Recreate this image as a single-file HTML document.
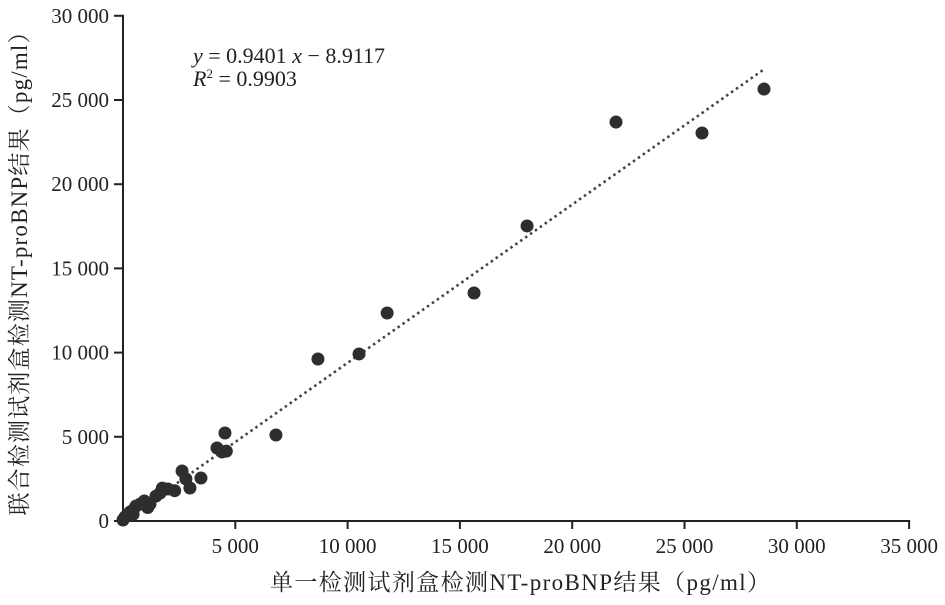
<!DOCTYPE html>
<html><head><meta charset="utf-8"><style>
body{margin:0;background:#fff;width:945px;height:600px;overflow:hidden}
svg text{font-family:"Liberation Serif","Noto Serif CJK SC",serif;fill:#222}
</style></head><body>
<svg id="chart" width="945" height="600" viewBox="0 0 945 600" xmlns="http://www.w3.org/2000/svg"></svg>
<script>
const xTicks=[5000,10000,15000,20000,25000,30000,35000];
const xTickLabels=["5 000","10 000","15 000","20 000","25 000","30 000","35 000"];
const yTicks=[0,5000,10000,15000,20000,25000,30000];
const yTickLabels=["0","5 000","10 000","15 000","20 000","25 000","30 000"];
const xValues=[4540,6810,4185,4410,4600,3470,2630,2800,2980,2000,1650,1470,950,580,310,90,180,450,760,1200,450,0,8680,10510,11760,15630,17990,21950,25780,28540,1750,1100,2300];
const yValues=[5225,5107,4335,4100,4150,2550,2970,2500,1960,1900,1660,1480,1190,890,530,240,350,650,1000,1000,400,60,9620,9920,12350,13540,17520,23690,23040,25650,1950,800,1800];
const slope=0.9401, intercept=-8.9117, fitStart=0, fitEnd=28500;

const X0=123,Y0=521,PX=112.3/5000,PY=84.2/5000;
const sx=v=>X0+v*PX, sy=v=>Y0-v*PY;
const svg=document.getElementById('chart');
const NS="http://www.w3.org/2000/svg";
function mk(t,a,p){const e=document.createElementNS(NS,t);for(const k in a)e.setAttribute(k,a[k]);(p||svg).appendChild(e);return e;}

const xAxis=mk('line',{x1:X0,y1:Y0,x2:sx(35000)+1,y2:Y0,stroke:'#222','stroke-width':2});


const yAxis=mk('line',{x1:X0,y1:Y0+1,x2:X0,y2:sy(30000)-1,stroke:'#222','stroke-width':2});



xTicks.forEach((v,i)=>{
  const t=mk('line',{x1:sx(v),y1:Y0,x2:sx(v),y2:Y0+8,stroke:'#222','stroke-width':2});
  
  
  const l=mk('text',{x:sx(v),y:Y0+32,'text-anchor':'middle','font-size':21});
  l.textContent=xTickLabels[i];
  
  
});
yTicks.forEach((v,i)=>{
  const t=mk('line',{x1:X0-9,y1:sy(v),x2:X0,y2:sy(v),stroke:'#222','stroke-width':2});
  
  
  const l=mk('text',{x:X0-14,y:sy(v)+7,'text-anchor':'end','font-size':21});
  l.textContent=yTickLabels[i];
  
  
});

const fit=mk('line',{x1:sx(fitStart),y1:sy(slope*fitStart+intercept),x2:sx(fitEnd),y2:sy(slope*fitEnd+intercept),stroke:'#444','stroke-width':2.6,'stroke-dasharray':'2.5 3.5'});



xValues.forEach((v,i)=>{
  const c=mk('circle',{cx:sx(v),cy:sy(yValues[i]),r:6.5,fill:'#2e2e2e'});
  
  
});

const eq=mk('text',{x:193,y:63,'font-size':22});
eq.innerHTML='<tspan font-style="italic">y</tspan> = 0.9401 <tspan font-style="italic">x</tspan> − 8.9117';


const r2=mk('text',{x:193,y:86,'font-size':22});
r2.innerHTML='<tspan font-style="italic">R</tspan><tspan font-size="13" dy="-8">2</tspan><tspan dy="8"> = 0.9903</tspan>';



const xt=mk('text',{x:520,y:590,'text-anchor':'middle','font-size':23,'textLength':500,'lengthAdjust':'spacing'});
xt.textContent='单一检测试剂盒检测NT-proBNP结果（pg/ml）';


const yt=mk('text',{x:0,y:0,'text-anchor':'middle','font-size':23,'textLength':495,'lengthAdjust':'spacing',transform:'translate(27,268) rotate(-90)'});
yt.textContent='联合检测试剂盒检测NT-proBNP结果（pg/ml）';


</script>
</body></html>
